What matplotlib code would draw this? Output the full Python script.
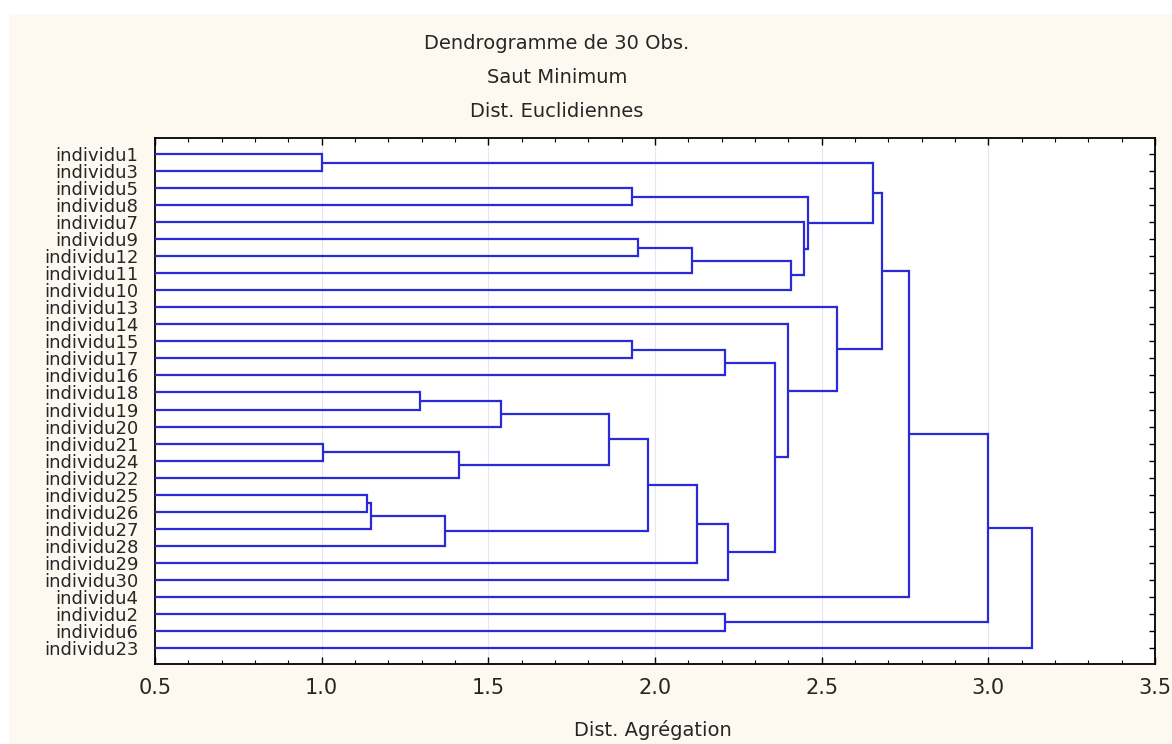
import matplotlib
matplotlib.use("Agg")
import matplotlib.pyplot as plt
from matplotlib.patches import Rectangle
import numpy as np

# feuilles, de haut en bas
labels = ['individu1', 'individu3', 'individu5', 'individu8', 'individu7',
          'individu9', 'individu12', 'individu11', 'individu10', 'individu13',
          'individu14', 'individu15', 'individu17', 'individu16', 'individu18',
          'individu19', 'individu20', 'individu21', 'individu24', 'individu22',
          'individu25', 'individu26', 'individu27', 'individu28', 'individu29',
          'individu30', 'individu4', 'individu2', 'individu6', 'individu23']

# agrégations : cluster n = 30 + i  (gauche, droite, distance)
merge_a = [0, 17, 20, 32, 14, 33, 31, 34, 37, 2, 11, 5, 38, 41, 42,
           27, 40, 44, 46, 10, 43, 4, 39, 9, 30, 54, 55, 56, 57]
merge_b = [1, 18, 21, 22, 15, 23, 19, 16, 36, 3, 12, 6, 35, 7, 24,
           28, 13, 25, 47, 48, 8, 50, 51, 49, 52, 53, 26, 45, 29]
merge_h = [1.00, 1.003, 1.135, 1.147, 1.295, 1.37, 1.413, 1.538, 1.863, 1.93,
           1.93, 1.95, 1.98, 2.11, 2.125, 2.21, 2.21, 2.22, 2.36, 2.40,
           2.407, 2.447, 2.458, 2.546, 2.653, 2.68, 2.763, 3.00, 3.13]

titles = ['Dendrogramme de 30 Obs.', 'Saut Minimum', 'Dist. Euclidiennes']
xticks = [0.5, 1.0, 1.5, 2.0, 2.5, 3.0, 3.5]

W, H = 1172, 744
line_col = '#2a2ad8'
txt_col = '#262626'
plt.rcParams['font.family'] = ['DejaVu Sans']

fig = plt.figure(figsize=(W / 100, H / 100), dpi=100, facecolor='#fdf9f1')
# bord blanc en haut et à gauche
fig.patches.append(Rectangle((0, 1 - 13 / H), 1, 13 / H, transform=fig.transFigure,
                             color='white', zorder=0))
fig.patches.append(Rectangle((0, 0), 8 / W, 1, transform=fig.transFigure,
                             color='white', zorder=0))

ax = fig.add_axes([155 / W, 1 - 664 / H, 1000 / W, 526 / H])
ax.set_facecolor('white')

xmin = 0.5
n = len(labels)
ypos = {i: float(i) for i in range(n)}
hpos = {i: xmin for i in range(n)}
for k, (a, b, h) in enumerate(zip(merge_a, merge_b, merge_h)):
    c = n + k
    for child in (a, b):
        ax.plot([hpos[child], h], [ypos[child], ypos[child]], color=line_col, lw=1.6,
                solid_capstyle='butt', zorder=3)
    ax.plot([h, h], [ypos[a], ypos[b]], color=line_col, lw=1.6, zorder=3)
    ypos[c] = (ypos[a] + ypos[b]) / 2
    hpos[c] = h

ax.set_xlim(0.5, 3.5)
ax.set_ylim(n - 1 + 0.95, -0.95)
ax.set_xticks(xticks)
ax.set_xticklabels([f'{v:.1f}' for v in xticks])
ax.set_xticks(np.arange(0.5, 3.51, 0.1), minor=True)
ax.set_yticks(range(n))
ax.set_yticklabels(labels)
ax.grid(axis='x', which='major', color='#e6e6ee', lw=0.8, zorder=0)

ax.tick_params(axis='x', which='both', direction='in', top=True, bottom=True,
               colors='black', labelcolor=txt_col, labelsize=15, pad=10)
ax.tick_params(axis='x', which='major', length=5, width=1)
ax.tick_params(axis='x', which='minor', length=3, width=0.8)
ax.tick_params(axis='y', which='both', direction='in', left=False, right=True,
               length=4, width=1, labelcolor=txt_col, labelsize=13, pad=12)
for s in ax.spines.values():
    s.set_linewidth(1.3)
    s.set_color('black')

ty = [49, 83, 117]
for t, y in zip(titles, ty):
    fig.text(557 / W, 1 - y / H, t, ha='center', va='baseline', fontsize=14, color=txt_col)
fig.text(653 / W, 1 - 736 / H, 'Dist. Agrégation', ha='center', va='baseline',
         fontsize=14, color=txt_col)

fig.savefig('out.png', dpi=100, facecolor=fig.get_facecolor())
